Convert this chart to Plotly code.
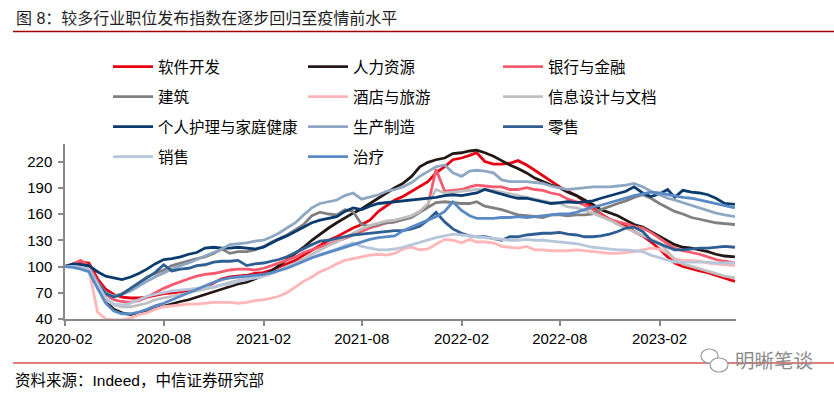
import datetime as dt
import plotly.graph_objects as go

# ---------------- data ----------------
# semi-monthly observation dates: 1st and 16th of each month, 2020-02-01 .. 2023-06 (last point 2023-06-20)
dates = []
y, m = 2020, 2
while len(dates) < 82:
    dates.append(dt.date(y, m, 1))
    if len(dates) < 82:
        dates.append(dt.date(y, m, 16))
    m += 1
    if m > 12:
        m, y = 1, y + 1
dates[-1] = dt.date(2023, 6, 20)

software = [100, 102, 105, 104, 86, 74, 68, 65, 64, 64, 65, 67, 69, 70, 71, 72, 73, 76, 81, 86, 88,
            89, 90, 92, 93, 96, 99, 103, 107, 113, 119, 124, 130, 134, 139, 144, 148, 153, 163, 170, 176,
            180, 186, 191, 197, 207, 214, 222, 224, 227, 230, 220, 217, 217, 218, 221, 216, 210, 204, 197, 191,
            186, 181, 174, 167, 160, 154, 150, 146, 140, 135, 128, 120, 111, 104, 100, 97, 95, 93, 90, 86, 83]
hr = [100, 101, 101, 99, 78, 60, 51, 47, 45, 47, 49, 52, 55, 57, 60, 62, 65, 68, 71, 74, 77,
      80, 82, 86, 90, 95, 101, 107, 115, 122, 130, 137, 144, 150, 156, 161, 166, 172, 178, 184, 190,
      195, 203, 214, 219, 222, 224, 229, 230, 232, 233, 230, 226, 221, 216, 212, 207, 201, 197, 193, 190,
      185, 181, 176, 171, 165, 161, 158, 153, 148, 145, 140, 134, 129, 125, 122, 121, 119, 117, 114, 112, 111]
banking = [100, 103, 107, 101, 82, 68, 62, 60, 59, 61, 65, 70, 75, 79, 83, 86, 89, 91, 92, 94, 96,
           97, 97, 96, 98, 101, 104, 108, 111, 116, 119, 122, 126, 129, 132, 136, 140, 144, 147, 150, 151,
           154, 158, 163, 170, 211, 186, 187, 188, 191, 193, 192, 191, 191, 188, 188, 190, 188, 187, 184, 182,
           177, 174, 170, 165, 159, 154, 151, 149, 146, 144, 139, 132, 126, 121, 118, 116, 114, 111, 108, 106, 104]
construction = [100, 100, 99, 96, 80, 70, 66, 69, 75, 81, 88, 92, 96, 101, 104, 107, 109, 111, 115, 120, 115,
                117, 117, 119, 123, 128, 132, 136, 142, 148, 158, 162, 160, 159, 165, 163, 148, 146, 148, 150, 151,
                153, 156, 162, 168, 173, 174, 173, 172, 172, 174, 169, 167, 165, 162, 159, 158, 157, 156, 159, 159,
                158, 159, 159, 160, 165, 169, 172, 175, 179, 182, 178, 172, 167, 163, 160, 156, 154, 152, 150, 149, 148]
hospitality = [100, 101, 100, 97, 48, 40, 39, 39, 41, 45, 47, 51, 54, 55, 56, 57, 57, 58, 59, 59, 59,
               58, 59, 61, 62, 64, 66, 70, 77, 83, 88, 94, 98, 103, 107, 109, 111, 113, 114, 113, 115,
               120, 122, 119, 120, 125, 131, 130, 127, 131, 128, 128, 127, 123, 122, 121, 123, 119, 119, 118, 118,
               118, 119, 118, 117, 116, 115, 115, 116, 117, 119, 121, 120, 115, 109, 107, 107, 106, 104, 103, 102, 101]
info_design = [100, 100, 99, 96, 76, 62, 56, 54, 54, 56, 58, 62, 64, 66, 68, 70, 72, 74, 76, 79, 82,
               84, 86, 87, 89, 92, 96, 100, 104, 109, 114, 119, 124, 128, 133, 138, 143, 147, 150, 152, 153,
               155, 158, 163, 172, 188, 184, 185, 186, 187, 188, 188, 187, 185, 183, 181, 179, 177, 175, 173, 172,
               168, 167, 164, 161, 157, 153, 148, 144, 140, 136, 132, 127, 117, 108, 103, 100, 98, 95, 92, 89, 87]
personal_care = [100, 103, 102, 101, 94, 89, 87, 85, 88, 92, 97, 103, 108, 109, 111, 114, 116, 121, 122, 121, 121,
                 122, 121, 120, 122, 127, 131, 135, 140, 145, 150, 153, 155, 157, 163, 167, 165, 169, 172, 173, 174,
                 175, 176, 177, 178, 179, 181, 182, 181, 183, 184, 188, 185, 182, 180, 178, 178, 176, 174, 172, 173,
                 174, 173, 174, 175, 178, 181, 183, 186, 191, 184, 180, 183, 188, 179, 187, 185, 184, 182, 178, 172, 171]
manufacturing = [100, 100, 99, 97, 82, 70, 66, 68, 72, 78, 83, 88, 93, 97, 101, 104, 108, 112, 116, 120, 125,
                 126, 127, 129, 130, 134, 138, 144, 150, 159, 167, 172, 174, 176, 181, 184, 177, 179, 182, 186, 188,
                 191, 196, 203, 209, 214, 216, 207, 203, 209, 210, 209, 207, 199, 197, 197, 197, 196, 195, 192, 190,
                 188, 189, 190, 191, 191, 191, 192, 193, 195, 191, 186, 182, 178, 176, 173, 170, 167, 164, 161, 159, 157]
retail = [100, 100, 98, 96, 81, 69, 65, 68, 75, 81, 88, 93, 102, 95, 97, 98, 101, 102, 105, 106, 106,
          107, 101, 103, 104, 106, 108, 111, 116, 121, 125, 129, 130, 132, 134, 136, 137, 138, 139, 140, 141,
          141, 143, 146, 153, 162, 151, 143, 138, 135, 134, 134, 132, 130, 134, 134, 136, 137, 138, 138, 139,
          137, 136, 134, 134, 135, 137, 140, 144, 145, 140, 130, 126, 122, 119, 119, 120, 121, 121, 122, 123, 122]
sales = [100, 100, 99, 97, 80, 64, 57, 56, 58, 62, 66, 68, 70, 72, 73, 74, 75, 76, 77, 79, 80,
         83, 85, 87, 89, 92, 95, 98, 102, 106, 110, 114, 117, 120, 124, 127, 123, 121, 119, 119, 120,
         122, 125, 128, 130, 133, 135, 137, 136, 135, 134, 133, 132, 131, 130, 130, 131, 130, 130, 129, 128,
         127, 126, 124, 122, 121, 120, 119, 119, 118, 117, 113, 110, 107, 105, 105, 105, 105, 105, 104, 104, 104]
therapy = [100, 99, 97, 94, 75, 58, 49, 46, 46, 48, 51, 55, 58, 62, 66, 70, 74, 78, 82, 85, 87,
           88, 89, 90, 91, 93, 95, 98, 102, 106, 110, 113, 116, 119, 122, 125, 128, 131, 133, 134, 135,
           141, 145, 149, 153, 157, 163, 174, 164, 158, 155, 155, 155, 156, 156, 157, 156, 157, 158, 159, 160,
           160, 162, 165, 168, 170, 173, 176, 178, 181, 183, 185, 184, 182, 181, 179, 178, 176, 174, 172, 169, 167]

names = ["软件开发", "人力资源", "银行与金融", "建筑", "酒店与旅游", "信息设计与文档",
         "个人护理与家庭健康", "生产制造", "零售", "销售", "治疗"]
series = [software, hr, banking, construction, hospitality, info_design,
          personal_care, manufacturing, retail, sales, therapy]
colors = ["#E60012", "#231815", "#F55B6E", "#808080", "#FFB6B9", "#BFBFBF",
          "#0B3B6E", "#8EA8C3", "#2F5F92", "#B7C6DA", "#5A8AC6"]
legend_rows = ["legend", "legend", "legend", "legend2", "legend2", "legend2",
               "legend3", "legend3", "legend3", "legend4", "legend4"]

y_ticks = [40, 70, 100, 130, 160, 190, 220]
x_ticks = ["2020-02-01", "2020-08-01", "2021-02-01", "2021-08-01", "2022-02-01", "2022-08-01", "2023-02-01"]
x_tick_text = ["2020-02", "2020-08", "2021-02", "2021-08", "2022-02", "2022-08", "2023-02"]

# ---------------- layout geometry ----------------
W, H = 834, 396
L, R, T, B = 65, 736, 144, 319


def px(x):
    return (x - L) / (R - L)


def py(y):
    return (B - y) / (B - T)


CJK = "Liberation Sans, Noto Sans CJK SC"

fig = go.Figure()
for nm, vals, col, lg in zip(names, series, colors, legend_rows):
    fig.add_trace(go.Scatter(x=dates, y=vals, name=nm, mode="lines",
                             line=dict(color=col, width=2.8), legend=lg))

leg_common = dict(orientation="h", xanchor="left", yanchor="middle",
                  bgcolor="rgba(0,0,0,0)", font=dict(family="Noto Sans CJK SC", size=15.5, color="#000"),
                  entrywidth=140, entrywidthmode="pixels", itemwidth=40, traceorder="normal")
fig.update_layout(
    width=W, height=H,
    margin=dict(l=L, r=W - R, t=T, b=H - B),
    paper_bgcolor="white", plot_bgcolor="white",
    showlegend=True,
    legend=dict(x=px(108), y=py(67), **leg_common),
    legend2=dict(x=px(108), y=py(97), **leg_common),
    legend3=dict(x=px(108), y=py(127), **leg_common),
    legend4=dict(x=px(108), y=py(157), **leg_common),
    xaxis=dict(type="date", range=["2020-02-01", "2023-06-22"], tickvals=x_ticks, ticktext=x_tick_text,
               showgrid=False, zeroline=False, showline=True, linecolor="#898989", linewidth=1.5,
               ticks="outside", ticklen=5, tickcolor="#898989", tickwidth=1.5,
               tickfont=dict(family="Liberation Sans", size=15, color="#000")),
    yaxis=dict(range=[40, 240], tickvals=y_ticks, showgrid=False, zeroline=False,
               showline=True, linecolor="#898989", linewidth=1.5,
               ticks="outside", ticklen=5, tickcolor="#898989", tickwidth=1.5, ticklabelstandoff=3,
               tickfont=dict(family="Liberation Sans", size=15, color="#000")),
)

annotations = [
    dict(text="图 8：较多行业职位发布指数在逐步回归至疫情前水平", x=px(14), y=py(18), xanchor="left", yanchor="middle",
         font=dict(family=CJK, size=16, color="#1F1F1F")),
    dict(text="资料来源：Indeed，中信证券研究部", x=px(13), y=py(380), xanchor="left", yanchor="middle",
         font=dict(family=CJK, size=15.5, color="#000")),
    dict(text="明晰笔谈", x=px(733), y=py(359), xanchor="left", yanchor="middle",
         font=dict(family="Noto Sans CJK SC", size=19.5, color="#8C8C8C")),
]
for a in annotations:
    a.update(xref="paper", yref="paper", showarrow=False)
fig.update_layout(annotations=annotations)

shapes = [
    dict(type="line", x0=px(13), x1=px(834), y0=py(31.5), y1=py(31.5), line=dict(color="#A00000", width=1.5)),
    dict(type="line", x0=px(13), x1=px(834), y0=py(363), y1=py(363), line=dict(color="#C00000", width=1.2)),
    dict(type="circle", x0=px(701), x1=px(718), y0=py(363), y1=py(349), line=dict(color="#9A9A9A", width=1.2),
         fillcolor="white"),
    dict(type="circle", x0=px(710), x1=px(728), y0=py(372), y1=py(358), line=dict(color="#9A9A9A", width=1.2),
         fillcolor="white"),
]
for s in shapes:
    s.update(xref="paper", yref="paper")
fig.update_layout(shapes=shapes)

fig.write_html("out.html", config={"displayModeBar": False},
               post_script="document.body.style.margin='0';document.body.style.overflow='hidden';")
